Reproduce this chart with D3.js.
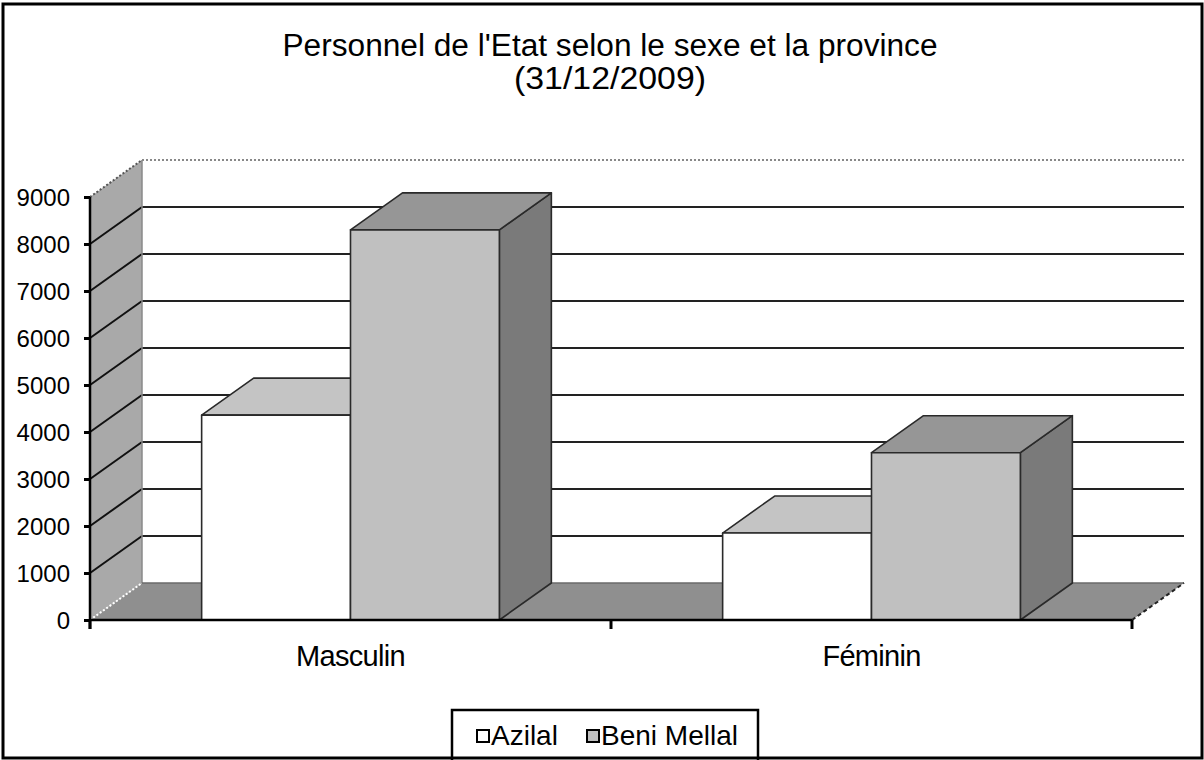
<!DOCTYPE html>
<html>
<head>
<meta charset="utf-8">
<script src="https://cdn.jsdelivr.net/npm/d3@7"></script>
<style>
html,body{margin:0;padding:0;background:#fff;}
svg{display:block;font-family:"Liberation Sans",Arial,sans-serif;}
</style>
</head>
<body>
<svg id="chart" width="1204" height="760"></svg>
<script>
const categories = ["Masculin", "Féminin"];
const seriesNames = ["Azilal", "Beni Mellal"];
const azilal = [4360, 1850];
const beniMellal = [8300, 3560];
const yTicks = [0, 1000, 2000, 3000, 4000, 5000, 6000, 7000, 8000, 9000];
const titleLines = ["Personnel de l'Etat selon le sexe et la province", "(31/12/2009)"];

(function () {
const seriesValues = [azilal, beniMellal];
const svg = d3.select("#chart");
const W = 1204, H = 760;

// plot geometry
const pLeft = 90, pRight = 1132, pBottom = 620, pTop = 197;
const dx = 52, dy = -37;

const x = d3.scaleBand().domain(categories).range([pLeft, pRight]);
const xs = d3.scaleBand().domain(seriesNames).range([0, x.bandwidth()]).paddingInner(0).paddingOuter(0.75);
const y = d3.scaleLinear().domain([0, 9000]).range([pBottom, pTop]);

const faceColors = {
  "Azilal": {front: "#ffffff", top: "#c4c4c4", side: "#9a9a9a"},
  "Beni Mellal": {front: "#c0c0c0", top: "#969696", side: "#7a7a7a"}
};

const g = svg.append("g");
const pts = a => a.map(p => p.join(",")).join(" ");

// back wall
g.append("rect").attr("x", pLeft + dx).attr("y", y(9000) + dy)
  .attr("width", pRight - pLeft).attr("height", y(0) - y(9000)).attr("fill", "#ffffff");
yTicks.filter(v => v > 0 && v < 9000).forEach(v => {
  g.append("line").attr("x1", pLeft + dx).attr("x2", pRight + dx)
    .attr("y1", y(v) + dy).attr("y2", y(v) + dy)
    .attr("stroke", "#222").attr("stroke-width", 2);
});
g.append("line").attr("x1", pLeft + dx).attr("x2", pRight + dx + 2)
  .attr("y1", y(9000) + dy).attr("y2", y(9000) + dy)
  .attr("stroke", "#888").attr("stroke-width", 2).attr("stroke-dasharray", "2,2");

// left wall
g.append("polygon").attr("points", pts([[pLeft, y(0)], [pLeft, y(9000)], [pLeft + dx, y(9000) + dy], [pLeft + dx, y(0) + dy]]))
  .attr("fill", "#a9a9a9");
yTicks.filter(v => v > 0 && v < 9000).forEach(v => {
  g.append("line").attr("x1", pLeft).attr("y1", y(v)).attr("x2", pLeft + dx).attr("y2", y(v) + dy)
    .attr("stroke", "#111").attr("stroke-width", 2);
});
g.append("line").attr("x1", pLeft + dx).attr("x2", pLeft + dx).attr("y1", y(9000) + dy).attr("y2", y(0) + dy)
  .attr("stroke", "#8a8a8a").attr("stroke-width", 1.5);
g.append("line").attr("x1", pLeft).attr("y1", y(9000)).attr("x2", pLeft + dx).attr("y2", y(9000) + dy)
  .attr("stroke", "#555").attr("stroke-width", 2).attr("stroke-dasharray", "2,2");

// floor
g.append("polygon").attr("points", pts([[pLeft, y(0)], [pRight, y(0)], [pRight + dx, y(0) + dy], [pLeft + dx, y(0) + dy]]))
  .attr("fill", "#8f8f8f");
g.append("line").attr("x1", pLeft + dx).attr("x2", pRight + dx).attr("y1", y(0) + dy).attr("y2", y(0) + dy)
  .attr("stroke", "#6a6a6a").attr("stroke-width", 1.5);
g.append("line").attr("x1", pLeft).attr("y1", y(0)).attr("x2", pLeft + dx).attr("y2", y(0) + dy)
  .attr("stroke", "#ffffff").attr("stroke-width", 2).attr("stroke-dasharray", "2,2");
g.append("line").attr("x1", pRight).attr("y1", y(0)).attr("x2", pRight + dx).attr("y2", y(0) + dy)
  .attr("stroke", "#222").attr("stroke-width", 2).attr("stroke-dasharray", "4,3");

// bars
categories.forEach((c, ci) => {
  seriesNames.forEach((s, si) => {
    const v = seriesValues[si][ci];
    const x0 = x(c) + xs(s), x1 = x0 + xs.bandwidth();
    const yt = y(v), yb = y(0);
    const col = faceColors[s];
    const bg = g.append("g").attr("stroke", "#2a2a2a").attr("stroke-width", 1.6).attr("stroke-linejoin", "round");
    bg.append("polygon").attr("points", pts([[x1, yb], [x1, yt], [x1 + dx, yt + dy], [x1 + dx, yb + dy]])).attr("fill", col.side);
    bg.append("polygon").attr("points", pts([[x0, yt], [x1, yt], [x1 + dx, yt + dy], [x0 + dx, yt + dy]])).attr("fill", col.top);
    bg.append("rect").attr("x", x0).attr("y", yt).attr("width", x1 - x0).attr("height", yb - yt).attr("fill", col.front);
  });
});

// y axis
const yAxis = d3.axisLeft(y).tickValues(yTicks).tickSize(6).tickPadding(14).tickFormat(d3.format("d"));
const ya = svg.append("g").attr("transform", `translate(${pLeft},0)`).call(yAxis);
ya.select(".domain").remove();
ya.selectAll(".tick line").attr("stroke", "#000").attr("stroke-width", 3);
ya.selectAll(".tick text").attr("font-size", 24).attr("fill", "#000")
  .attr("font-family", "Liberation Sans, Arial, sans-serif").attr("dy", "0.36em");
svg.append("line").attr("x1", pLeft).attr("x2", pLeft).attr("y1", y(9000)).attr("y2", y(0) + 9)
  .attr("stroke", "#000").attr("stroke-width", 2.5);

// x axis
svg.append("line").attr("x1", pLeft).attr("x2", pRight).attr("y1", y(0)).attr("y2", y(0))
  .attr("stroke", "#000").attr("stroke-width", 2.5);
const bounds = categories.map(c => x(c)).concat([x(categories[categories.length - 1]) + x.bandwidth()]);
bounds.forEach(b => {
  svg.append("line").attr("x1", b).attr("x2", b).attr("y1", y(0)).attr("y2", y(0) + 9)
    .attr("stroke", "#000").attr("stroke-width", 3);
});
categories.forEach(c => {
  svg.append("text").attr("x", x(c) + x.bandwidth() / 2).attr("y", 666)
    .attr("text-anchor", "middle").attr("font-size", 29).attr("letter-spacing", -0.7)
    .attr("fill", "#000").text(c);
});

// title
const titleWidths = [655, 192];
titleLines.forEach((t, i) => {
  svg.append("text").attr("x", 610).attr("y", 56 + i * 33)
    .attr("text-anchor", "middle").attr("font-size", 31)
    .attr("textLength", titleWidths[i]).attr("lengthAdjust", "spacingAndGlyphs")
    .attr("fill", "#000").text(t);
});

// legend
const lg = svg.append("g");
lg.append("rect").attr("x", 452).attr("y", 710).attr("width", 306).attr("height", 60)
  .attr("fill", "#fff").attr("stroke", "#000").attr("stroke-width", 2.5);
const legendX = [477, 587];
seriesNames.forEach((s, i) => {
  lg.append("rect").attr("x", legendX[i]).attr("y", 730).attr("width", 12).attr("height", 12)
    .attr("fill", faceColors[s].front).attr("stroke", "#000").attr("stroke-width", 2);
  lg.append("text").attr("x", legendX[i] + 14).attr("y", 745).attr("font-size", 28).attr("fill", "#000").text(s);
});

// outer border
svg.append("rect").attr("x", 3).attr("y", 4).attr("width", W - 5).attr("height", H - 6)
  .attr("fill", "none").attr("stroke", "#000").attr("stroke-width", 3);
})();
</script>
</body>
</html>
